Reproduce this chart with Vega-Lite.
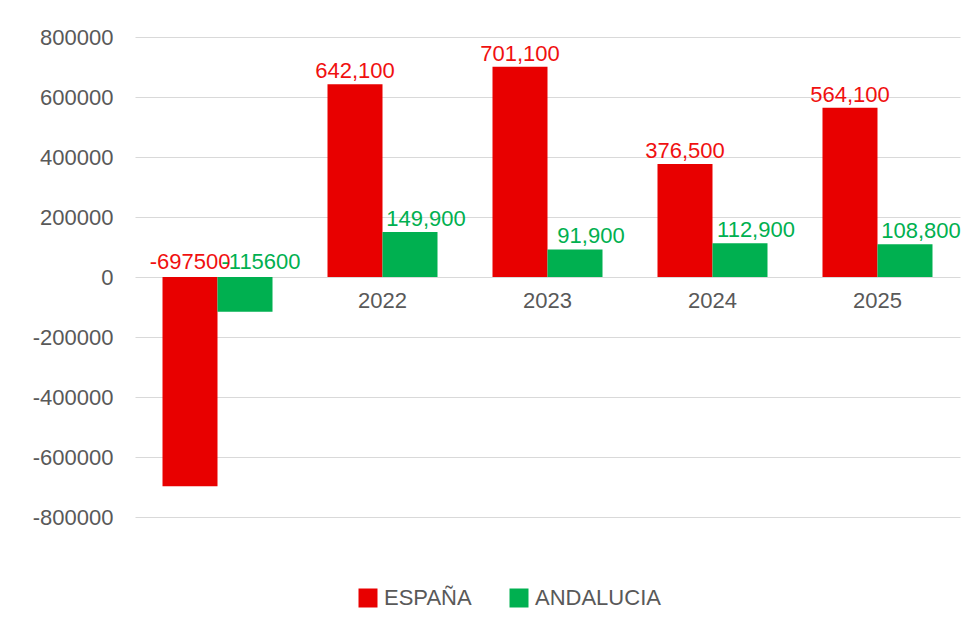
{
  "$schema": "https://vega.github.io/schema/vega-lite/v6.json",
  "width": 825,
  "height": 480,
  "autosize": "none",
  "padding": {"left": 135, "top": 37, "right": 16, "bottom": 112},
  "background": "white",
  "config": {
    "view": {"stroke": null},
    "font": "Liberation Sans",
    "axis": {"labelFont": "Liberation Sans", "labelColor": "#595959", "labelFontSize": 22},
    "legend": {"labelFont": "Liberation Sans"}
  },
  "data": {
    "values": [
      {"year": "2021", "serie": "ESPAÑA", "value": -697500, "label": "-697500"},
      {"year": "2021", "serie": "ANDALUCIA", "value": -115600, "label": "-115600"},
      {"year": "2022", "serie": "ESPAÑA", "value": 642100, "label": "642,100"},
      {"year": "2022", "serie": "ANDALUCIA", "value": 149900, "label": "149,900"},
      {"year": "2023", "serie": "ESPAÑA", "value": 701100, "label": "701,100"},
      {"year": "2023", "serie": "ANDALUCIA", "value": 91900, "label": "91,900"},
      {"year": "2024", "serie": "ESPAÑA", "value": 376500, "label": "376,500"},
      {"year": "2024", "serie": "ANDALUCIA", "value": 112900, "label": "112,900"},
      {"year": "2025", "serie": "ESPAÑA", "value": 564100, "label": "564,100"},
      {"year": "2025", "serie": "ANDALUCIA", "value": 108800, "label": "108,800"}
    ]
  },
  "encoding": {
    "x": {
      "field": "year", "type": "nominal", "sort": null,
      "scale": {"paddingInner": 0.3333, "paddingOuter": 0.1667},
      "axis": {"title": null, "orient": "bottom", "offset": -240, "labelAngle": 0, "ticks": false, "domain": false, "labelPadding": 13, "grid": false}
    },
    "xOffset": {"field": "serie", "type": "nominal", "sort": ["ESPAÑA", "ANDALUCIA"], "scale": {"paddingInner": 0, "paddingOuter": 0}},
    "y": {
      "field": "value", "type": "quantitative",
      "scale": {"domain": [-800000, 800000], "nice": false},
      "axis": {"title": null, "values": [-800000, -600000, -400000, -200000, 0, 200000, 400000, 600000, 800000], "labelExpr": "'' + datum.value", "ticks": false, "domain": false, "labelPadding": 22, "gridColor": "#D9D9D9", "gridWidth": 1}
    }
  },
  "layer": [
    {
      "mark": {"type": "bar"},
      "encoding": {
        "color": {
          "field": "serie", "type": "nominal", "sort": ["ESPAÑA", "ANDALUCIA"],
          "scale": {"domain": ["ESPAÑA", "ANDALUCIA"], "range": ["#E80000", "#00B050"]},
          "legend": {"title": null, "orient": "none", "direction": "horizontal", "legendX": 222, "legendY": 550, "symbolType": "square", "symbolSize": 361, "symbolStrokeWidth": 0, "labelFontSize": 22, "labelColor": "#595959", "labelOffset": 5, "columnPadding": 36, "padding": 0}
        }
      }
    },
    {
      "transform": [{"filter": "datum.serie === 'ESPAÑA' && datum.value >= 0"}],
      "mark": {"type": "text", "baseline": "alphabetic", "dy": -6, "fontSize": 22, "color": "#F01010"},
      "encoding": {"text": {"field": "label"}}
    },
    {
      "transform": [{"filter": "datum.serie === 'ESPAÑA' && datum.value < 0"}],
      "mark": {"type": "text", "baseline": "alphabetic", "dy": -8, "fontSize": 22, "color": "#F01010"},
      "encoding": {"text": {"field": "label"}, "y": {"datum": 0}}
    },
    {
      "transform": [{"filter": "datum.serie === 'ANDALUCIA' && datum.value >= 0"}],
      "mark": {"type": "text", "baseline": "alphabetic", "dy": -6, "dx": 16, "fontSize": 22, "color": "#00B050"},
      "encoding": {"text": {"field": "label"}}
    },
    {
      "transform": [{"filter": "datum.serie === 'ANDALUCIA' && datum.value < 0"}],
      "mark": {"type": "text", "baseline": "alphabetic", "dy": -8, "dx": 16, "fontSize": 22, "color": "#00B050"},
      "encoding": {"text": {"field": "label"}, "y": {"datum": 0}}
    }
  ]
}
